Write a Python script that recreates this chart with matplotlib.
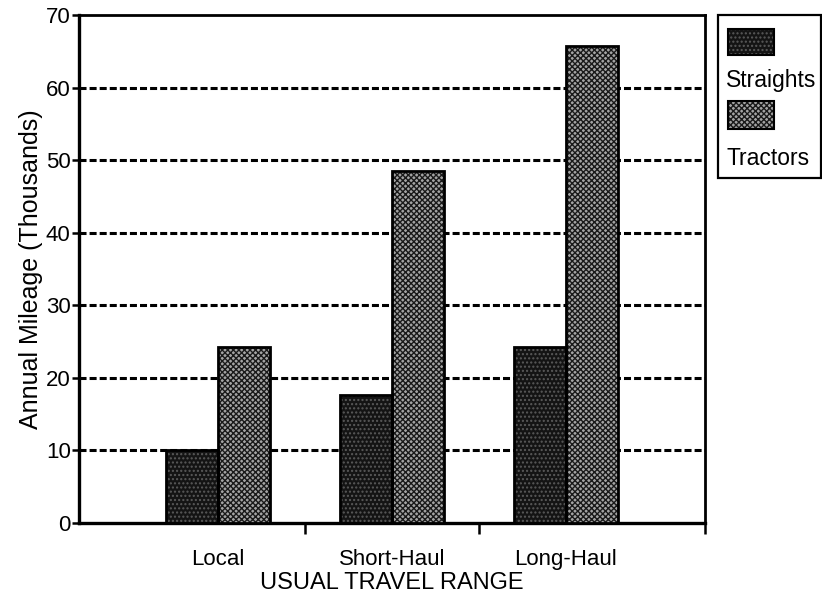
import matplotlib
matplotlib.use("Agg")
import matplotlib.pyplot as plt
from matplotlib.patches import Rectangle
import numpy as np

categories = ["Local", "Short-Haul", "Long-Haul"]
series_names = ["Straights", "Tractors"]
straights = [10.0, 17.7, 24.2]
tractors = [24.2, 48.5, 65.7]
y_ticks = [0, 10, 20, 30, 40, 50, 60, 70]
x_label = "USUAL TRAVEL RANGE"
y_label = "Annual Mileage (Thousands)"

plt.rcParams['font.family'] = ['Liberation Sans', 'DejaVu Sans']

W, H = 822, 595
fig = plt.figure(figsize=(W / 100, H / 100), dpi=100)
ax = fig.add_axes([79 / W, 1 - 523 / H, (705 - 79) / W, (523 - 15) / H])

x = np.arange(len(categories))
bw = 0.3
styles = [
    dict(face="#141414", hatch="....", hcol="#5a5a5a"),
    dict(face="#a4a4a4", hatch="xxxxxx", hcol="#1a1a1a"),
]
for i, (vals, st) in enumerate(zip([straights, tractors], styles)):
    pos = x + (i - 0.5) * bw
    ax.bar(pos, vals, width=bw, color=st["face"], hatch=st["hatch"],
           edgecolor=st["hcol"], linewidth=0, zorder=3)
    ax.bar(pos, vals, width=bw, fill=False, edgecolor="black",
           linewidth=2.0, zorder=4)

ax.set_xlim(-0.8, 2.8)
ax.set_ylim(0, 70)
ax.set_yticks(y_ticks)
ax.set_yticklabels([str(v) for v in y_ticks], fontsize=16)
for v in y_ticks[1:-1]:
    ax.axhline(v, color="black", linestyle=(0, (2.3, 1.0)), linewidth=2.2, zorder=2)

ax.set_xticks([0.5, 1.5, 2.8])
ax.set_xticklabels([])
ax.set_xticks(x, minor=True)
ax.set_xticklabels(categories, minor=True, fontsize=16)
ax.tick_params(axis="x", which="minor", length=0, pad=19)
ax.tick_params(axis="x", which="major", direction="out", length=8, width=1.8)
ax.tick_params(axis="y", direction="out", length=5, width=1.8, pad=1)

for s in ["left", "bottom"]:
    ax.spines[s].set_linewidth(2.4)
for s in ["top", "right"]:
    ax.spines[s].set_linewidth(2.0)

ax.set_xlabel(x_label, fontsize=17, labelpad=1)
ax.set_ylabel(y_label, fontsize=18, labelpad=2)

# legend (patch above label)
def fx(px):
    return px / W

def fy(py):
    return 1 - py / H

fig.patches.append(Rectangle((fx(718), fy(178)), fx(821) - fx(718), fy(15) - fy(178),
                             transform=fig.transFigure, fill=False,
                             edgecolor="black", linewidth=1.6))
entries = [(29, 55, 87), (101, 129, 165)]
for name, st, (top, bot, base) in zip(series_names, styles, entries):
    fig.patches.append(Rectangle((fx(728), fy(bot)), fx(774) - fx(728), fy(top) - fy(bot),
                                 transform=fig.transFigure, facecolor=st["face"],
                                 hatch=st["hatch"], edgecolor=st["hcol"], linewidth=0))
    fig.patches.append(Rectangle((fx(728), fy(bot)), fx(774) - fx(728), fy(top) - fy(bot),
                                 transform=fig.transFigure, fill=False,
                                 edgecolor="black", linewidth=1.5))
    fig.text(fx(726), fy(base), name, fontsize=16.5, va="baseline", ha="left")

fig.savefig("out.png", dpi=100)
